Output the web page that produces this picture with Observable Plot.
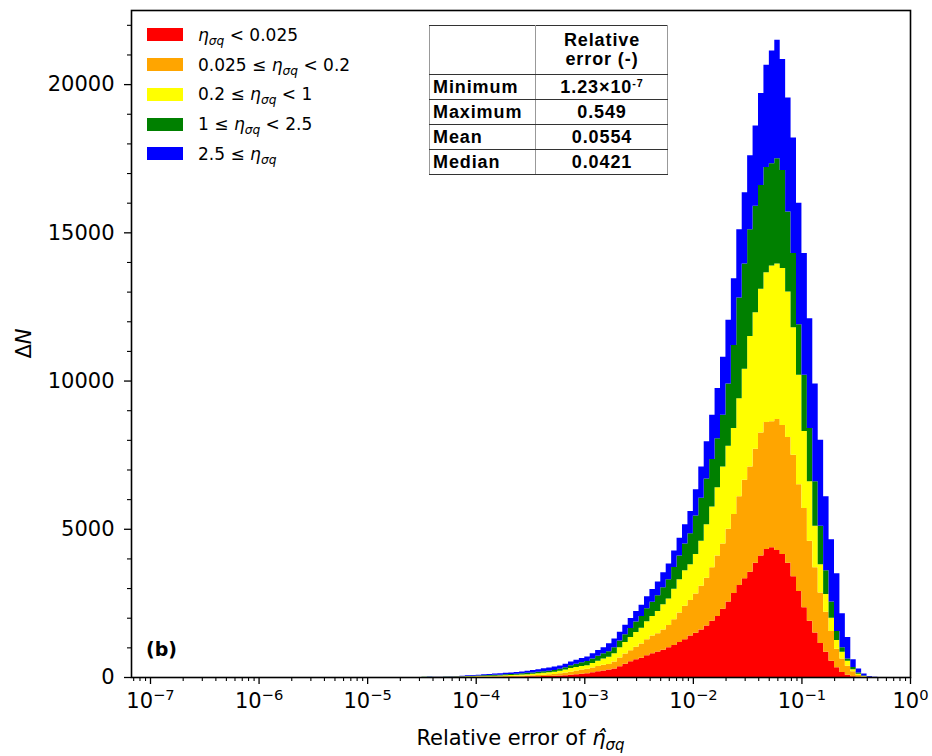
<!DOCTYPE html>
<html>
<head>
<meta charset="utf-8">
<script src="https://cdn.jsdelivr.net/npm/d3@7"></script>
<script src="https://cdn.jsdelivr.net/npm/@observablehq/plot@0.6"></script>
<style>
  body { margin: 0; background: #fff; }
  #wrap { position: relative; width: 932px; height: 756px; font-family: "DejaVu Sans", sans-serif; }
  #wrap svg { position: absolute; left: 0; top: 0; }
  #legend { position: absolute; left: 147px; top: 20px; font-size: 17px; color: #000; }
  #legend .row { display: flex; align-items: center; height: 29.75px; white-space: nowrap; }
  #legend .sw { width: 36px; height: 13px; margin-right: 15px; flex: none; }
  #legend i { font-style: italic; }
  #legend sub { font-size: 0.72em; vertical-align: -0.35em; line-height: 0; font-style: italic; }
  #stats { position: absolute; left: 429px; top: 25px; border-collapse: collapse;
           font-family: "Liberation Sans", Arial, sans-serif; font-weight: bold; font-size: 18px;
           letter-spacing: 0.05em; color: #000; }
  #stats td { border-top: 1px solid #333; border-bottom: 1px solid #333; border-left: 1px solid #999; border-right: 1px solid #999;
              height: 24px; padding: 0 2px 0 3px; line-height: 1.05; }
  #stats td.v { text-align: center; }
  #stats tr.h td { height: 48px; }
  #stats sup { font-size: 0.6em; vertical-align: 0.6em; line-height: 0; }
  #panel { position: absolute; left: 146px; top: 638px; font-family: "DejaVu Sans", sans-serif; font-weight: bold; font-size: 19px; }
</style>
</head>
<body>
<div id="wrap"></div>
<script>
// ---- histogram bins (log10 of the first bin edge and bin width in decades) ----
const binStartLog = -4.5;
const binWidthLog = 0.05;

// ---- series keys, colours, legend bounds ----
const seriesKeys = ["r", "o", "y", "g", "b"];
const seriesColors = ["#ff0000", "#ffa500", "#ffff00", "#008000", "#0000ff"];
const legendLower = [null, "0.025", "0.2", "1", "2.5"];
const legendUpper = ["0.025", "0.2", "1", "2.5", null];

// ---- counts per bin (ΔN), bottom to top of the stack ----
const red = [0,0,1,1,1,2,2,3,4,4,5,6,7,9,10,12,15,18,20,22,25,29,32,36,40,50,60,75,90,110,130,160,190,220,250,290,360,450,530,600,650,730,800,860,920,1000,1080,1180,1270,1400,1490,1600,1740,1900,2060,2300,2550,2830,3100,3330,3550,3850,4100,4320,4380,4280,4150,3850,3400,2900,2350,1900,1500,1150,850,550,330,170,80,25,5,0,0,0];
const orange = [1,2,1,2,3,3,4,5,6,8,10,12,14,15,16,18,20,22,26,28,33,41,48,56,65,75,90,105,130,140,150,160,180,190,190,230,300,340,370,420,480,540,600,620,680,750,870,1000,1130,1200,1330,1480,1610,1800,2040,2200,2450,2670,3000,3320,3550,3850,4150,4280,4250,4420,4350,4250,4100,3600,3350,2700,2200,1700,1350,1000,620,450,300,165,65,20,3,0];
const yellow = [2,2,3,3,4,5,7,9,12,14,15,17,19,22,24,27,30,32,36,45,52,55,65,68,75,85,100,120,120,120,120,150,180,210,240,280,340,390,450,500,530,610,660,750,850,900,1030,1120,1200,1200,1330,1520,1800,2050,2300,2600,2800,2900,3300,3750,4400,4600,4850,5050,5250,5250,5300,4900,4300,3700,2600,2000,1400,950,600,450,300,230,170,70,40,10,2,0];
const green = [3,4,5,6,6,6,9,11,13,16,18,21,25,27,30,33,35,38,43,45,45,50,50,55,60,70,80,100,110,130,140,150,170,180,190,200,230,260,300,350,400,440,480,530,580,650,730,800,900,1050,1300,1450,1550,1600,1650,1750,2100,2800,3400,3550,3600,3600,3500,3550,3450,3550,3300,2700,2500,1700,1900,1800,1500,1300,800,550,300,150,70,80,40,20,5,0];
const blue = [6,7,7,8,10,12,14,17,20,23,30,36,38,42,48,52,55,58,63,70,80,90,100,105,110,110,120,120,130,140,150,180,190,200,270,300,300,320,340,360,380,400,430,460,500,530,560,600,650,750,880,1050,1250,1500,1700,1950,2150,2250,2300,2400,2500,2700,3100,3450,3800,4000,3750,3850,3900,4100,4100,3700,3300,2900,2500,2100,1950,1150,730,260,140,70,20,5];

// ---- axis ticks ----
const yMajor = [0, 5000, 10000, 15000, 20000];
const yMinorStep = 1000;
const yMax = 22500;
const xExpMajor = [-7, -6, -5, -4, -3, -2, -1, 0];
const xMinLog = -7.175;

// ---- table ----
const statNames = ["Minimum", "Maximum", "Mean", "Median"];
const statValues = ["1.23×10<sup>-7</sup>", "0.549", "0.0554", "0.0421"];

// ---- build rows for a stepped, stacked histogram ----
const seriesValues = [red, orange, yellow, green, blue];
const edges = d3.range(red.length + 1).map(i => Math.pow(10, binStartLog + i * binWidthLog));
const rows = [];
seriesKeys.forEach((s, j) => {
  const v = seriesValues[j];
  edges.forEach((e, i) => rows.push({x: e, y: v[Math.min(i, v.length - 1)], s}));
});

const xMin = Math.pow(10, xMinLog);
const xMajor = xExpMajor.map(e => Math.pow(10, e));
const xMinor = [];
for (let e = -8; e < 0; e++) for (let m = 2; m <= 9; m++) {
  const v = m * Math.pow(10, e);
  if (v >= xMin && v <= 1) xMinor.push(v);
}
const yMinor = d3.range(yMinorStep, yMax + 1, yMinorStep).filter(v => v % 5000 !== 0);

const chart = Plot.plot({
  width: 932,
  height: 756,
  marginLeft: 131,
  marginRight: 22,
  marginTop: 10,
  marginBottom: 79,
  x: {type: "log", domain: [xMin, 1]},
  y: {domain: [0, yMax]},
  color: {domain: seriesKeys, range: seriesColors},
  style: {fontFamily: "DejaVu Sans", fontSize: "21px", color: "black", background: "white", overflow: "visible"},
  marks: [
    Plot.areaY(rows, Plot.stackY({x: "x", y: "y", z: "s", fill: "s", curve: "step-after"})),
    Plot.axisY({ticks: yMinor, tickSize: 4, tickFormat: () => "", label: null, strokeWidth: 1.1}),
    Plot.axisY({ticks: yMajor, tickSize: 7, tickPadding: 10, tickFormat: d => String(d), label: null, strokeWidth: 1.3}),
    Plot.axisX({ticks: xMinor, tickSize: 4, tickFormat: () => "", label: null, strokeWidth: 1.1}),
    Plot.axisX({ticks: xMajor, tickSize: 7, tickPadding: 9, tickFormat: d => "E" + Math.round(Math.log10(d)), label: null, strokeWidth: 1.3}),
    Plot.frame({stroke: "black", strokeWidth: 1.6})
  ]
});

document.getElementById("wrap").appendChild(chart);

// ---- x tick labels as 10 with a raised exponent ----
const svg = d3.select(chart);
svg.selectAll("text").each(function() {
  const t = d3.select(this);
  const s = t.text();
  if (/^E-?\d+$/.test(s)) {
    const e = +s.slice(1);
    t.text("");
    t.append("tspan").text("10");
    t.append("tspan").attr("font-size", "0.7em").attr("dy", "-0.55em").text(e < 0 ? "\u2212" + (-e) : String(e));
  }
});

// ---- axis titles ----
const xs = chart.scale("x").range;
const ys = chart.scale("y").range;
const xl = svg.append("text")
  .attr("x", (xs[0] + xs[1]) / 2).attr("y", 745)
  .attr("text-anchor", "middle").attr("font-size", 21).attr("fill", "black");
xl.append("tspan").text("Relative error of ");
xl.append("tspan").attr("font-style", "italic").text("\u03B7\u0302");
xl.append("tspan").attr("font-style", "italic").attr("font-size", 15).attr("dy", 5).text("\u03C3q");

const yl = svg.append("text")
  .attr("transform", `translate(31,${(ys[0] + ys[1]) / 2}) rotate(-90)`)
  .attr("text-anchor", "middle").attr("font-size", 21).attr("fill", "black");
yl.append("tspan").text("\u0394");
yl.append("tspan").attr("font-style", "italic").text("N");

// ---- legend ----
const eta = '<i>η</i><sub>σq</sub>';
const legend = document.createElement("div");
legend.id = "legend";
legend.innerHTML = seriesKeys.map((k, i) => {
  let label = "";
  if (legendLower[i] !== null) label += legendLower[i] + " ≤ ";
  label += eta;
  if (legendUpper[i] !== null) label += " &lt; " + legendUpper[i];
  return `<div class="row"><div class="sw" style="background:${seriesColors[i]}"></div><span>${label}</span></div>`;
}).join("");
document.getElementById("wrap").appendChild(legend);

// ---- statistics table ----
const table = document.createElement("table");
table.id = "stats";
table.innerHTML = `<colgroup><col style="width:106px"><col style="width:132px"></colgroup>` +
  `<tr class="h"><td></td><td class="v">Relative<br>error (-)</td></tr>` +
  statNames.map((n, i) => `<tr><td>${n}</td><td class="v">${statValues[i]}</td></tr>`).join("");
document.getElementById("wrap").appendChild(table);

// ---- panel label ----
const panel = document.createElement("div");
panel.id = "panel";
panel.textContent = "(b)";
document.getElementById("wrap").appendChild(panel);
</script>
</body>
</html>
